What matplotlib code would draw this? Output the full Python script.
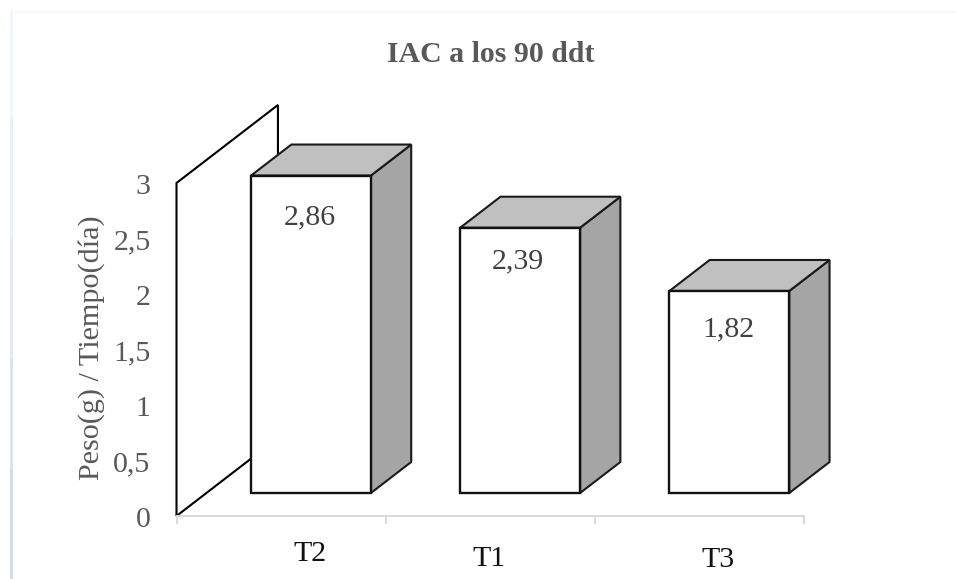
import matplotlib
matplotlib.use('Agg')
import matplotlib.pyplot as plt
from matplotlib.patches import Polygon
from matplotlib.transforms import ScaledTranslation

plt.rcParams['font.family'] = ['Liberation Serif', 'DejaVu Serif']

categories = ['T2', 'T1', 'T3']
values = [2.86, 2.39, 1.82]
value_labels = ['2,86', '2,39', '1,82']
y_ticks = [0, 0.5, 1, 1.5, 2, 2.5, 3]
y_tick_labels = ['0', '0,5', '1', '1,5', '2', '2,5', '3']

W, H = 956, 579
fig = plt.figure(figsize=(W / 100, H / 100), dpi=100)
ax = fig.add_axes([176.5 / W, 1 - 516 / H, 627.5 / W, 333 / H])
ax.set_xlim(0, 3)
ax.set_ylim(0, 3)

# oblique 3d look: depth 1 means the back wall
DX = 0.485
DY = 0.703


def proj(x, y, z):
    return (x + DX * z, y + DY * z)


# back wall
wall = [proj(0, 0, 0), proj(0, 3, 0), proj(0, 3, 1), proj(0, 0, 1)]
ax.add_patch(Polygon(wall, closed=True, fc='white', ec='black', lw=1.5,
                     zorder=1, clip_on=False))

bar_w = 0.573
z0 = 0.295
z1 = 0.692
for i, v in enumerate(values):
    x0 = i + (1 - bar_w) / 2
    x1 = x0 + bar_w
    front = [proj(x0, 0, z0), proj(x0, v, z0), proj(x1, v, z0), proj(x1, 0, z0)]
    top = [proj(x0, v, z0), proj(x0, v, z1), proj(x1, v, z1), proj(x1, v, z0)]
    side = [proj(x1, 0, z0), proj(x1, v, z0), proj(x1, v, z1), proj(x1, 0, z1)]
    ax.add_patch(Polygon(side, closed=True, fc='#a5a5a5', ec='#1a1a1a', lw=1.5,
                         zorder=2, clip_on=False))
    ax.add_patch(Polygon(top, closed=True, fc='#c0c0c0', ec='#1a1a1a', lw=1.5,
                         zorder=2, clip_on=False))
    ax.add_patch(Polygon(front, closed=True, fc='white', ec='#111111', lw=1.7,
                         zorder=3, clip_on=False))

# labels were moved by hand in the original, offsets in px
label_dx = [-1.5, -2, -0.5]
label_dy = [-41.5, -33.5, -38]
for i, v in enumerate(values):
    fx, fy = proj(i + 0.5, v, z0)
    ax.annotate(value_labels[i], (fx, fy), xytext=(label_dx[i] * 0.72, label_dy[i] * 0.72),
                textcoords='offset points', ha='center', va='center',
                fontsize=21.5, color='#404040', zorder=4, annotation_clip=False)

for s in ['top', 'right', 'left']:
    ax.spines[s].set_visible(False)
ax.spines['bottom'].set_color('#d9d9d9')
ax.spines['bottom'].set_linewidth(1.4)
ax.patch.set_alpha(0)
ax.set_xticks([0, 1, 2, 3])
ax.set_xticklabels([])
ax.tick_params(axis='x', length=6, width=1.4, color='#d9d9d9')
ax.set_yticks(y_ticks)
ax.set_yticklabels(y_tick_labels, fontsize=21.5, color='#595959')
ax.tick_params(axis='y', length=0, pad=19)
for t in ax.get_yticklabels():
    t.set_transform(t.get_transform() + ScaledTranslation(0.5 / 100, -1 / 100, fig.dpi_scale_trans))

# category names sit off centre in the original
cat_px = [(310, 554), (489, 559), (718, 560)]
for name, (px, py) in zip(categories, cat_px):
    fig.text(px / W, 1 - py / H, name, ha='center', va='center', fontsize=21.5, color='#111111')

fig.text(490.5 / W, 1 - 54 / H, 'IAC a los 90 ddt', ha='center', va='center',
         fontsize=21.4, fontweight='bold', color='#595959')
fig.text(92 / W, 1 - 348 / H, 'Peso(g) / Tiempo(día)', rotation=90, ha='center', va='center',
         fontsize=21.7, color='#595959')

# pale frame around the chart object, left edge gets bluer going down
edge_cols = ['#eff5fb', '#e6eff9', '#dce9f6', '#d2e2f4', '#c8dcf1']
edge_ys = [11, 120, 240, 360, 470, 579]
for c, y0, y1 in zip(edge_cols, edge_ys[:-1], edge_ys[1:]):
    fig.add_artist(plt.Line2D([10.5 / W, 10.5 / W], [1 - y0 / H, 1 - y1 / H], color=c, lw=1.9))
fig.add_artist(plt.Line2D([10.5 / W, 1], [1 - 11.5 / H, 1 - 11.5 / H], color='#f5f9fd', lw=1.2))

fig.savefig('out.png', dpi=100)
